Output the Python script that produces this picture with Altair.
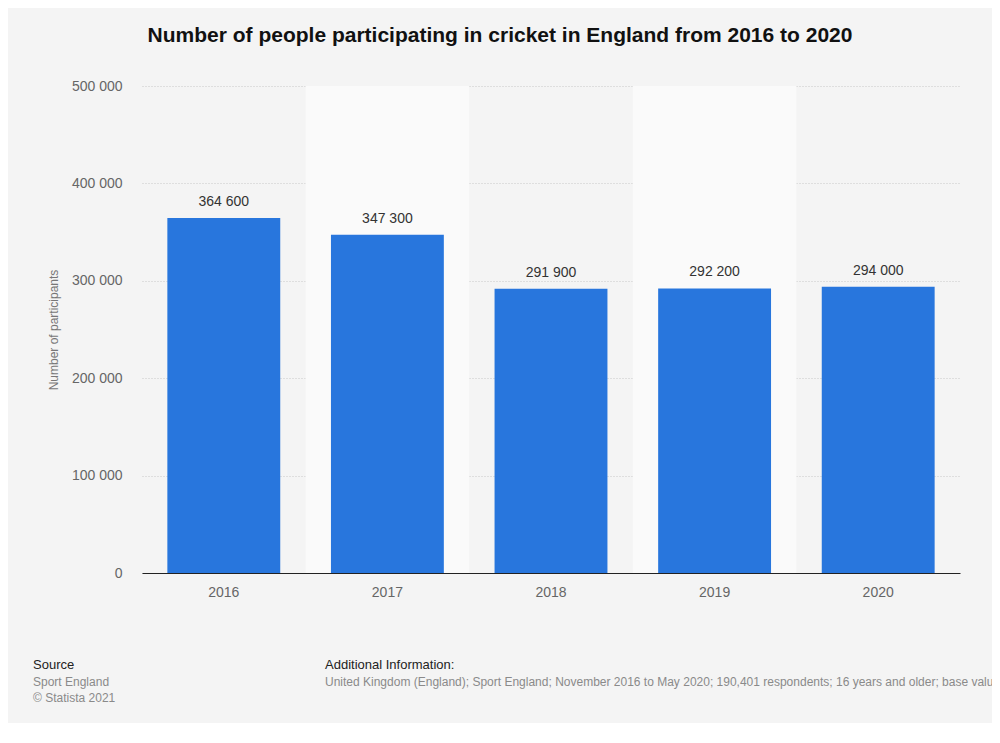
import altair as alt
import pandas as pd

years = ["2016", "2017", "2018", "2019", "2020"]
participants = [364600, 347300, 291900, 292200, 294000]
band_years = ["2017", "2019"]
y_max = 500000

title_text = "Number of people participating in cricket in England from 2016 to 2020"
y_title = "Number of participants"
source_head = "Source"
source_lines = ["Sport England", "© Statista 2021"]
info_head = "Additional Information:"
info_text = ("United Kingdom (England); Sport England; November 2016 to May 2020; "
             "190,401 respondents; 16 years and older; base values per year")

df = pd.DataFrame({"year": years, "value": participants})
df_band = pd.DataFrame({"year": band_years, "top": [y_max] * len(band_years)})

FONT = "Liberation Sans"
BG = "#f4f4f4"

x_enc = alt.X("year:N", sort=years,
              scale=alt.Scale(domain=years, paddingInner=0, paddingOuter=0),
              axis=alt.Axis(title=None, labelAngle=0, labelFontSize=14, labelColor="#666666",
                            labelFont=FONT, labelPadding=12, ticks=False, domain=True,
                            domainColor="#222222", domainWidth=1, grid=False))
y_scale = alt.Scale(domain=[0, y_max], nice=False)

bands = alt.Chart(df_band).mark_bar(width={"band": 1}, color="#fafafa").encode(
    x=x_enc,
    y=alt.Y("top:Q", scale=y_scale,
            axis=alt.Axis(title=y_title, titleFontSize=12, titleColor="#777777",
                          titleFont=FONT, titleFontWeight="normal", titlePadding=11,
                          values=[0, 100000, 200000, 300000, 400000, 500000],
                          labelExpr="replace(format(datum.value, ','), ',', ' ')",
                          labelFontSize=14, labelColor="#666666", labelFont=FONT,
                          labelPadding=20, ticks=False, domain=False, grid=True,
                          gridColor="#c8c8c8", gridDash=[1, 2], gridWidth=1)),
)

bars = alt.Chart(df).mark_bar(width={"band": 0.69}, color="#2876dd").encode(
    x=alt.X("year:N", sort=years),
    y=alt.Y("value:Q", scale=y_scale),
)

labels = alt.Chart(df).transform_calculate(
    lbl="replace(format(datum.value, ','), ',', ' ')"
).mark_text(baseline="bottom", dy=-9, fontSize=14, color="#333333", font=FONT).encode(
    x=alt.X("year:N", sort=years),
    y=alt.Y("value:Q", scale=y_scale),
    text="lbl:N",
)

foot_df = pd.DataFrame({"t": [0]})
def foot(text, x, y, color, size):
    return alt.Chart(foot_df).mark_text(
        align="left", baseline="middle", fontSize=size, color=color, font=FONT, text=text
    ).encode(x=alt.value(x), y=alt.value(487 + y))

footer = [
    foot(source_head, -109, 92, "#222222", 13),
    foot(source_lines[0], -109, 109, "#8a8a8a", 12),
    foot(source_lines[1], -109, 125, "#8a8a8a", 12),
    foot(info_head, 183, 92, "#222222", 13),
    foot(info_text, 183, 109, "#8a8a8a", 12),
]

chart = alt.layer(bands, bars, labels, *footer).properties(
    width=818, height=487,
    background=BG,
    padding={"left": 134, "top": 78, "right": 32, "bottom": 150},
    autosize=alt.AutoSizeParams(type="none"),
    title=alt.TitleParams(title_text, font=FONT, fontSize=21, fontWeight="bold",
                          color="#111111", anchor="middle", dx=-51, offset=33),
).configure_view(stroke=None, fill=BG)

chart.save("out.html", embed_options={"renderer": "svg", "actions": False})
